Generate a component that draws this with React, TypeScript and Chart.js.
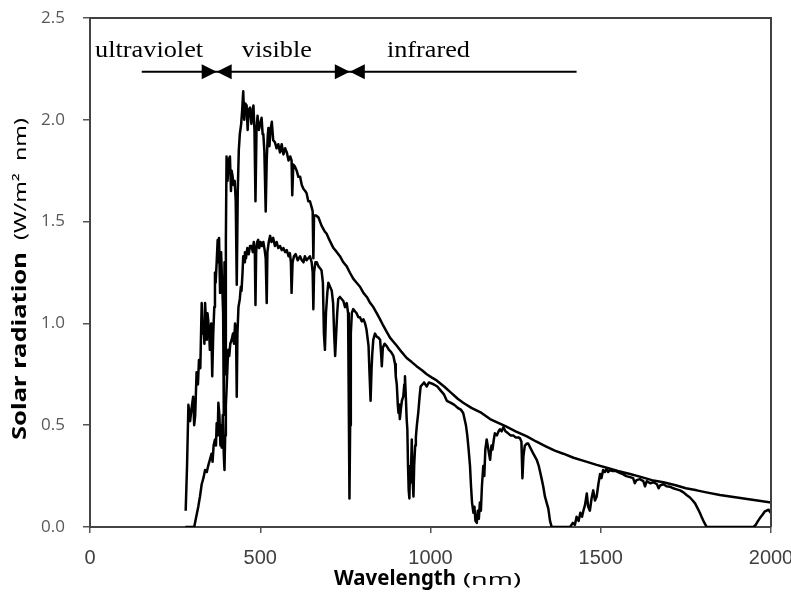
import { useEffect, useRef } from 'react';
import { Chart, registerables } from 'chart.js';

Chart.register(...registerables);

// Extraterrestrial (top-of-atmosphere) spectrum
const extraWavelength = [
  281, 285, 289, 294, 298, 303, 306, 309, 313, 317, 320, 324, 328, 331, 333, 336, 338, 341, 343, 345,
  347, 350, 352, 356, 359, 362, 365, 367, 369, 372, 375, 377, 379, 382, 385, 388, 391, 393, 395, 397,
  399, 401, 404, 407, 411, 414, 416, 419, 421, 425, 428, 431, 434, 437, 440, 444, 447, 450, 453, 456,
  460, 463, 466, 470, 474, 477, 480, 483, 486, 489, 492, 496, 500, 504, 507, 509, 512, 516, 519, 522,
  524, 527, 530, 534, 538, 543, 548, 553, 558, 563, 568, 573, 578, 583, 588, 592, 594, 597, 602, 607,
  612, 617, 622, 627, 632, 636, 641, 646, 651, 654, 656, 658, 664, 671, 680, 690, 695, 703, 715, 725,
  734, 744, 754, 763, 773, 783, 793, 803, 813, 823, 832, 842, 852, 861, 871, 881, 891, 901, 915, 930,
  945, 959, 975, 989, 1003, 1018, 1040, 1060, 1080, 1096, 1120, 1150, 1175, 1194, 1220, 1250, 1283, 1310, 1340, 1365,
  1390, 1420, 1450, 1488, 1520, 1550, 1586, 1620, 1650, 1684, 1720, 1750, 1782, 1810, 1850, 1880, 1920, 1960, 2000,
];
const extraIrradiance = [
  0.08, 0.30, 0.60, 0.52, 0.58, 0.64, 0.50, 0.55, 0.76, 0.70, 0.82, 0.78, 1.10, 0.95, 1.00, 0.90, 1.10, 1.00, 0.92, 1.05,
  1.02, 0.95, 0.87, 1.00, 0.74, 0.95, 1.08, 1.25, 1.20, 1.30, 1.41, 1.30, 1.42, 1.15, 1.35, 1.20, 1.05, 0.55, 1.30, 0.75,
  1.40, 1.82, 1.70, 1.80, 1.82, 1.65, 1.75, 1.72, 1.68, 1.70, 1.60, 1.19, 1.65, 1.85, 1.93, 1.98, 2.05, 2.14, 2.00, 2.08,
  2.07, 1.95, 2.05, 2.06, 1.98, 2.04, 2.07, 1.95, 1.60, 1.95, 2.02, 1.95, 1.98, 2.01, 1.93, 1.93, 1.85, 1.55, 1.80, 1.92,
  1.96, 1.87, 1.95, 1.99, 1.90, 1.89, 1.86, 1.88, 1.84, 1.88, 1.83, 1.86, 1.84, 1.80, 1.82, 1.80, 1.63, 1.78, 1.77, 1.75,
  1.72, 1.72, 1.68, 1.66, 1.65, 1.64, 1.60, 1.60, 1.57, 1.55, 1.32, 1.53, 1.53, 1.52, 1.48, 1.45, 1.44, 1.41, 1.37, 1.35,
  1.33, 1.30, 1.28, 1.25, 1.22, 1.20, 1.18, 1.15, 1.13, 1.10, 1.08, 1.05, 1.02, 0.99, 0.96, 0.93, 0.91, 0.89, 0.86, 0.83,
  0.81, 0.79, 0.77, 0.75, 0.735, 0.72, 0.69, 0.66, 0.63, 0.61, 0.585, 0.56, 0.53, 0.515, 0.495, 0.47, 0.445, 0.42, 0.395, 0.375,
  0.36, 0.34, 0.325, 0.305, 0.29, 0.275, 0.26, 0.245, 0.23, 0.22, 0.205, 0.19, 0.18, 0.17, 0.157, 0.15, 0.14, 0.13, 0.12,
];

// Ground-level spectrum
const groundWavelength = [
  280, 300, 306, 312, 318, 323, 328, 333, 338, 343, 347, 352, 357, 360, 363, 367, 370, 372, 375, 377,
  380, 383, 385, 387, 390, 393, 395, 397, 399, 401, 404, 406, 409, 412, 416, 420, 423, 426, 429, 431,
  433, 436, 440, 443, 445, 448, 450, 453, 455, 458, 462, 466, 470, 475, 478, 481, 484, 486, 488, 491,
  494, 497, 501, 505, 509, 513, 516, 519, 521, 525, 529, 533, 538, 543, 548, 553, 558, 563, 568, 573,
  578, 583, 587, 590, 592, 595, 599, 604, 610, 617, 622, 627, 631, 636, 641, 646, 651, 654, 656, 658,
  662, 666, 671, 676, 680, 684, 687, 690, 693, 697, 700, 705, 710, 714, 717, 720, 723, 726, 729, 734,
  739, 744, 749, 754, 758, 760, 762, 764, 766, 769, 773, 778, 783, 788, 793, 798, 803, 808, 812, 815,
  818, 821, 824, 827, 829, 832, 837, 842, 847, 852, 855, 857, 860, 865, 871, 878, 884, 891, 896, 898,
  901, 904, 906, 908, 910, 913, 916, 920, 923, 925, 928, 930, 932, 934, 936, 938, 940, 942, 945, 947,
  950, 952, 955, 957, 960, 964, 968, 971, 976, 981, 985, 989, 995, 1003, 1010, 1020, 1030, 1040, 1048, 1060,
  1070, 1080, 1090, 1096, 1100, 1104, 1108, 1112, 1116, 1119, 1122, 1126, 1129, 1132, 1136, 1139, 1142, 1145, 1148, 1151,
  1155, 1158, 1161, 1165, 1168, 1172, 1175, 1179, 1182, 1186, 1189, 1195, 1200, 1204, 1209, 1214, 1220, 1228, 1235, 1243,
  1250, 1258, 1263, 1267, 1270, 1273, 1277, 1283, 1287, 1293, 1302, 1312, 1318, 1322, 1326, 1331, 1336, 1341, 1346, 1351,
  1356, 1410, 1418, 1424, 1429, 1435, 1440, 1445, 1449, 1454, 1459, 1463, 1468, 1473, 1478, 1483, 1488, 1493, 1498, 1502,
  1507, 1512, 1517, 1522, 1527, 1535, 1545, 1557, 1565, 1575, 1586, 1595, 1600, 1605, 1615, 1625, 1630, 1635, 1645, 1655,
  1665, 1670, 1675, 1684, 1693, 1703, 1713, 1723, 1733, 1743, 1752, 1762, 1770, 1777, 1785, 1791, 1796, 1803, 1811, 1948,
  1955, 1962, 1968, 1975, 1981, 1987, 1993, 1999,
];
const groundIrradiance = [
  0.0, 0.0, 0.0, 0.05, 0.10, 0.15, 0.21, 0.24, 0.28, 0.27, 0.30, 0.33, 0.36, 0.32, 0.40, 0.43, 0.40, 0.51, 0.45, 0.61,
  0.55, 0.40, 0.50, 0.39, 0.55, 0.35, 0.28, 0.45, 0.60, 0.67, 0.80, 0.87, 0.84, 0.90, 0.92, 0.95, 0.90, 1.00, 0.95, 0.64,
  0.95, 1.08, 1.12, 1.18, 1.16, 1.25, 1.33, 1.30, 1.35, 1.32, 1.37, 1.34, 1.38, 1.38, 1.35, 1.40, 1.36, 1.09, 1.35, 1.40,
  1.41, 1.37, 1.40, 1.38, 1.40, 1.36, 1.32, 1.10, 1.35, 1.40, 1.43, 1.40, 1.42, 1.38, 1.40, 1.37, 1.38, 1.36, 1.37, 1.35,
  1.36, 1.33, 1.345, 1.30, 1.15, 1.30, 1.33, 1.34, 1.31, 1.33, 1.31, 1.30, 1.33, 1.31, 1.32, 1.33, 1.30, 1.25, 1.07, 1.25,
  1.30, 1.30, 1.28, 1.27, 1.26, 1.20, 0.95, 0.87, 1.05, 1.15, 1.20, 1.18, 1.16, 1.10, 0.95, 0.84, 0.95, 1.05, 1.12, 1.13,
  1.12, 1.11, 1.08, 1.10, 1.05, 0.60, 0.14, 0.50, 0.95, 1.05, 1.07, 1.06, 1.05, 1.03, 1.03, 1.01, 1.02, 1.00, 0.97, 0.93,
  0.89, 0.75, 0.62, 0.78, 0.85, 0.92, 0.95, 0.935, 0.93, 0.92, 0.85, 0.79, 0.88, 0.90, 0.89, 0.87, 0.86, 0.84, 0.80, 0.74,
  0.70, 0.60, 0.56, 0.60, 0.53, 0.58, 0.62, 0.64, 0.70, 0.74, 0.62, 0.53, 0.48, 0.30, 0.18, 0.14, 0.30, 0.22, 0.43, 0.25,
  0.15, 0.30, 0.40, 0.44, 0.50, 0.56, 0.64, 0.69, 0.70, 0.71, 0.70, 0.69, 0.71, 0.705, 0.70, 0.69, 0.67, 0.65, 0.62, 0.61,
  0.60, 0.585, 0.575, 0.56, 0.53, 0.50, 0.45, 0.38, 0.30, 0.20, 0.12, 0.07, 0.10, 0.03, 0.02, 0.08, 0.04, 0.12, 0.08, 0.20,
  0.30, 0.25, 0.38, 0.43, 0.40, 0.36, 0.33, 0.40, 0.38, 0.43, 0.46, 0.45, 0.47, 0.48, 0.47, 0.49, 0.47, 0.46, 0.45, 0.45,
  0.44, 0.44, 0.435, 0.42, 0.24, 0.35, 0.40, 0.41, 0.41, 0.39, 0.36, 0.33, 0.30, 0.27, 0.24, 0.20, 0.15, 0.12, 0.09, 0.03,
  0.0, 0.0, 0.02, 0.01, 0.05, 0.03, 0.07, 0.05, 0.08, 0.11, 0.165, 0.10, 0.08, 0.14, 0.18, 0.13, 0.15, 0.21, 0.26, 0.24,
  0.28, 0.27, 0.285, 0.27, 0.28, 0.275, 0.275, 0.265, 0.26, 0.25, 0.245, 0.24, 0.215, 0.23, 0.235, 0.225, 0.20, 0.225, 0.215, 0.22,
  0.21, 0.19, 0.205, 0.21, 0.20, 0.198, 0.19, 0.185, 0.18, 0.17, 0.157, 0.145, 0.13, 0.116, 0.09, 0.07, 0.05, 0.025, 0.0, 0.0,
  0.01, 0.03, 0.045, 0.06, 0.075, 0.08, 0.085, 0.07,
];

const xTicks = [0, 500, 1000, 1500, 2000];
const yTicks = [0, 0.5, 1.0, 1.5, 2.0, 2.5];

const bandLabels = ['ultraviolet', 'visible', 'infrared'];
const bandLabelStart = [15, 446, 872]; // nm, left edge of each label
const bandBoundaries = [372, 763]; // nm, arrow tips
const bandArrowRange = [152, 1429]; // nm
const bandLabelLevel = 2.31;
const bandArrowLevel = 2.236;

const xTitleBold = 'Wavelength';
const xTitleUnit = '(nm)';
const yTitleBold = 'Solar radiation';
const yTitleUnit = '(W/m²  nm)';

function toPoints(xs: number[], ys: number[]) {
  return xs.map((x, i) => ({ x, y: ys[i] }));
}

const decorPlugin = {
  id: 'decor',
  afterDraw(chart: any) {
    const { ctx, chartArea: a } = chart;
    const x = chart.scales.x;
    const y = chart.scales.y;
    ctx.save();

    // box: top and right borders
    ctx.strokeStyle = '#404040';
    ctx.lineWidth = 2;
    ctx.beginPath();
    ctx.moveTo(a.left, a.top);
    ctx.lineTo(a.right, a.top);
    ctx.lineTo(a.right, a.bottom);
    ctx.stroke();

    const drawFit = (text: string, font: string, left: number, base: number, width: number) => {
      ctx.font = font;
      const w = ctx.measureText(text).width;
      ctx.save();
      ctx.translate(left, base);
      ctx.scale(width / w, 1);
      ctx.fillText(text, 0, 0);
      ctx.restore();
    };

    // band labels
    ctx.fillStyle = '#000';
    ctx.textAlign = 'left';
    ctx.textBaseline = 'alphabetic';
    const labelY = y.getPixelForValue(bandLabelLevel);
    const labelWidths = [108, 70, 83];
    bandLabels.forEach((t, i) => {
      drawFit(t, '23px "Liberation Serif", "Times New Roman", serif', x.getPixelForValue(bandLabelStart[i]), labelY, labelWidths[i]);
    });

    // arrows
    const ay = y.getPixelForValue(bandArrowLevel);
    ctx.strokeStyle = '#000';
    ctx.lineWidth = 2;
    ctx.beginPath();
    ctx.moveTo(x.getPixelForValue(bandArrowRange[0]), ay);
    ctx.lineTo(x.getPixelForValue(bandArrowRange[1]), ay);
    ctx.stroke();
    bandBoundaries.forEach((b) => {
      const bx = x.getPixelForValue(b);
      ctx.beginPath();
      ctx.moveTo(bx, ay);
      ctx.lineTo(bx - 15, ay - 7.5);
      ctx.lineTo(bx - 15, ay + 7.5);
      ctx.closePath();
      ctx.fill();
      ctx.beginPath();
      ctx.moveTo(bx, ay);
      ctx.lineTo(bx + 15, ay - 7.5);
      ctx.lineTo(bx + 15, ay + 7.5);
      ctx.closePath();
      ctx.fill();
    });

    // x title
    ctx.fillStyle = '#000';
    drawFit(xTitleBold, 'bold 21px "Noto Sans", sans-serif', 334, 585, 122);
    drawFit(xTitleUnit, '17px "Noto Sans", sans-serif', 463, 585, 58);

    // y title (rotated)
    ctx.save();
    ctx.translate(26, 0);
    ctx.rotate(-Math.PI / 2);
    drawFit(yTitleBold, 'bold 20px "Noto Sans", sans-serif', -440, 0, 188);
    drawFit(yTitleUnit, '17px "Noto Sans", sans-serif', -240, 0, 122);
    ctx.restore();

    ctx.restore();
  },
};

export default function App() {
  const ref = useRef<HTMLCanvasElement | null>(null);

  useEffect(() => {
    if (!ref.current) return;
    const chart = new Chart(ref.current, {
      type: 'line',
      data: {
        datasets: [
          {
            label: 'Extraterrestrial',
            data: toPoints(extraWavelength, extraIrradiance),
            borderColor: '#000',
            borderWidth: 2.5,
            pointRadius: 0,
            tension: 0,
            fill: false,
            borderJoinStyle: 'round',
          },
          {
            label: 'Ground level',
            data: toPoints(groundWavelength, groundIrradiance),
            borderColor: '#000',
            borderWidth: 2.5,
            pointRadius: 0,
            tension: 0,
            fill: false,
            borderJoinStyle: 'round',
          },
        ],
      },
      options: {
        animation: false,
        responsive: false,
        devicePixelRatio: 1,
        layout: { padding: { top: 18, right: 20, left: 0, bottom: 0 } },
        plugins: {
          legend: { display: false },
          tooltip: { enabled: false },
          title: { display: false },
        },
        scales: {
          x: {
            type: 'linear',
            min: 0,
            max: 2000,
            afterBuildTicks: (scale: any) => {
              scale.ticks = xTicks.map((v) => ({ value: v }));
            },
            ticks: {
              color: '#404040',
              font: { family: '"Liberation Sans", Arial, sans-serif', size: 20 },
              padding: 13,
              maxRotation: 0,
              callback: (v: any) => String(v),
            },
            grid: { drawOnChartArea: false, drawTicks: true, tickLength: 6, color: '#555', lineWidth: 1.5 },
            border: { display: true, color: '#444', width: 2 },
            afterFit: (scale: any) => {
              scale.height = 74;
              scale.paddingLeft = 0;
              scale.paddingRight = 0;
            },
          },
          y: {
            type: 'linear',
            min: 0,
            max: 2.5,
            afterBuildTicks: (scale: any) => {
              scale.ticks = yTicks.map((v) => ({ value: v }));
            },
            ticks: {
              color: '#595959',
              font: { family: '"Open Sans", sans-serif', size: 17 },
              padding: 18,
              callback: (v: any) => Number(v).toFixed(1),
            },
            grid: { drawOnChartArea: false, drawTicks: true, tickLength: 7, color: '#555', lineWidth: 1.5 },
            border: { display: true, color: '#444', width: 2 },
            afterFit: (scale: any) => {
              scale.width = 90;
              scale.paddingTop = 0;
              scale.paddingBottom = 0;
            },
          },
        },
      },
      plugins: [decorPlugin],
    });
    return () => chart.destroy();
  }, []);

  return (
    <div style={{ position: 'absolute', left: 0, top: 0, width: 791, height: 601, background: '#fff' }}>
      <canvas ref={ref} width={791} height={601} style={{ width: 791, height: 601, display: 'block' }} />
    </div>
  );
}
